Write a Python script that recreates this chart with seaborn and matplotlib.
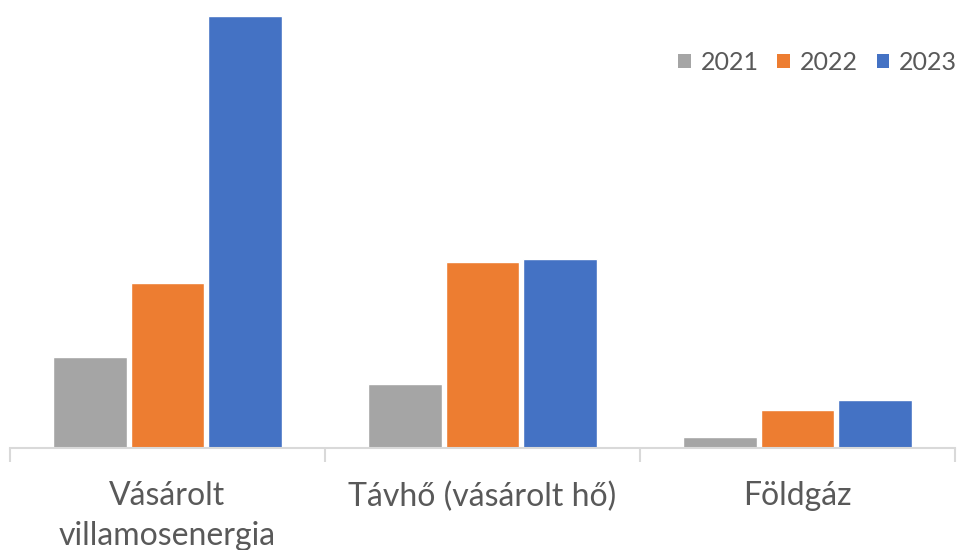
import matplotlib

matplotlib.use("Agg")
import pandas as pd
import seaborn as sns
import matplotlib.pyplot as plt
from matplotlib.patches import Patch

# values (relative bar heights, no axis shown)
categories = ["Vásárolt\nvillamosenergia", "Távhő (vásárolt hő)", "Földgáz"]
years = ["2021", "2022", "2023"]
v2021 = [91, 64, 11]
v2022 = [165, 186, 38]
v2023 = [432, 189, 48]
colors = ["#A5A5A5", "#ED7D31", "#4472C4"]

df = pd.DataFrame({
    "category": categories * 3,
    "year": [y for y in years for _ in categories],
    "value": v2021 + v2022 + v2023,
})

sns.set_style("white")
plt.rcParams["font.family"] = ["Lato", "DejaVu Sans"]

fig = plt.figure(figsize=(9.6, 5.5), dpi=100)
ax = fig.add_axes([10 / 960, 1 - 448 / 550, 945 / 960, 433 / 550])

sns.barplot(data=df, x="category", y="value", hue="year", palette=colors,
            width=0.74, gap=0.05, ax=ax, legend=False, saturation=1)

ax.set_xlim(-0.5, 2.5)
ax.set_ylim(0, 433)
ax.set_xlabel("")
ax.set_ylabel("")
ax.set_yticks([])
for s in ["top", "right", "left"]:
    ax.spines[s].set_visible(False)
ax.spines["bottom"].set_color("#D9D9D9")
ax.spines["bottom"].set_linewidth(1.5)

ax.set_xticks(range(3))
ax.set_xticklabels(categories, fontsize=23, color="#595959", linespacing=1.4)
ax.tick_params(axis="x", which="major", length=0, pad=24)
ax.set_xticks([-0.5, 0.5, 1.5, 2.5], minor=True)
ax.tick_params(axis="x", which="minor", bottom=True, length=10,
               color="#D9D9D9", width=1.5, direction="out")

handles = [Patch(facecolor=c, edgecolor="none") for c in colors]
fig.legend(handles, years, loc="center right", bbox_to_anchor=(0.997, 0.887),
           ncol=3, frameon=False, fontsize=18, labelcolor="#595959",
           handlelength=0.5, handleheight=0.5, handletextpad=0.4,
           columnspacing=0.75, borderaxespad=0, borderpad=0)

fig.savefig("out.png", dpi=100)
